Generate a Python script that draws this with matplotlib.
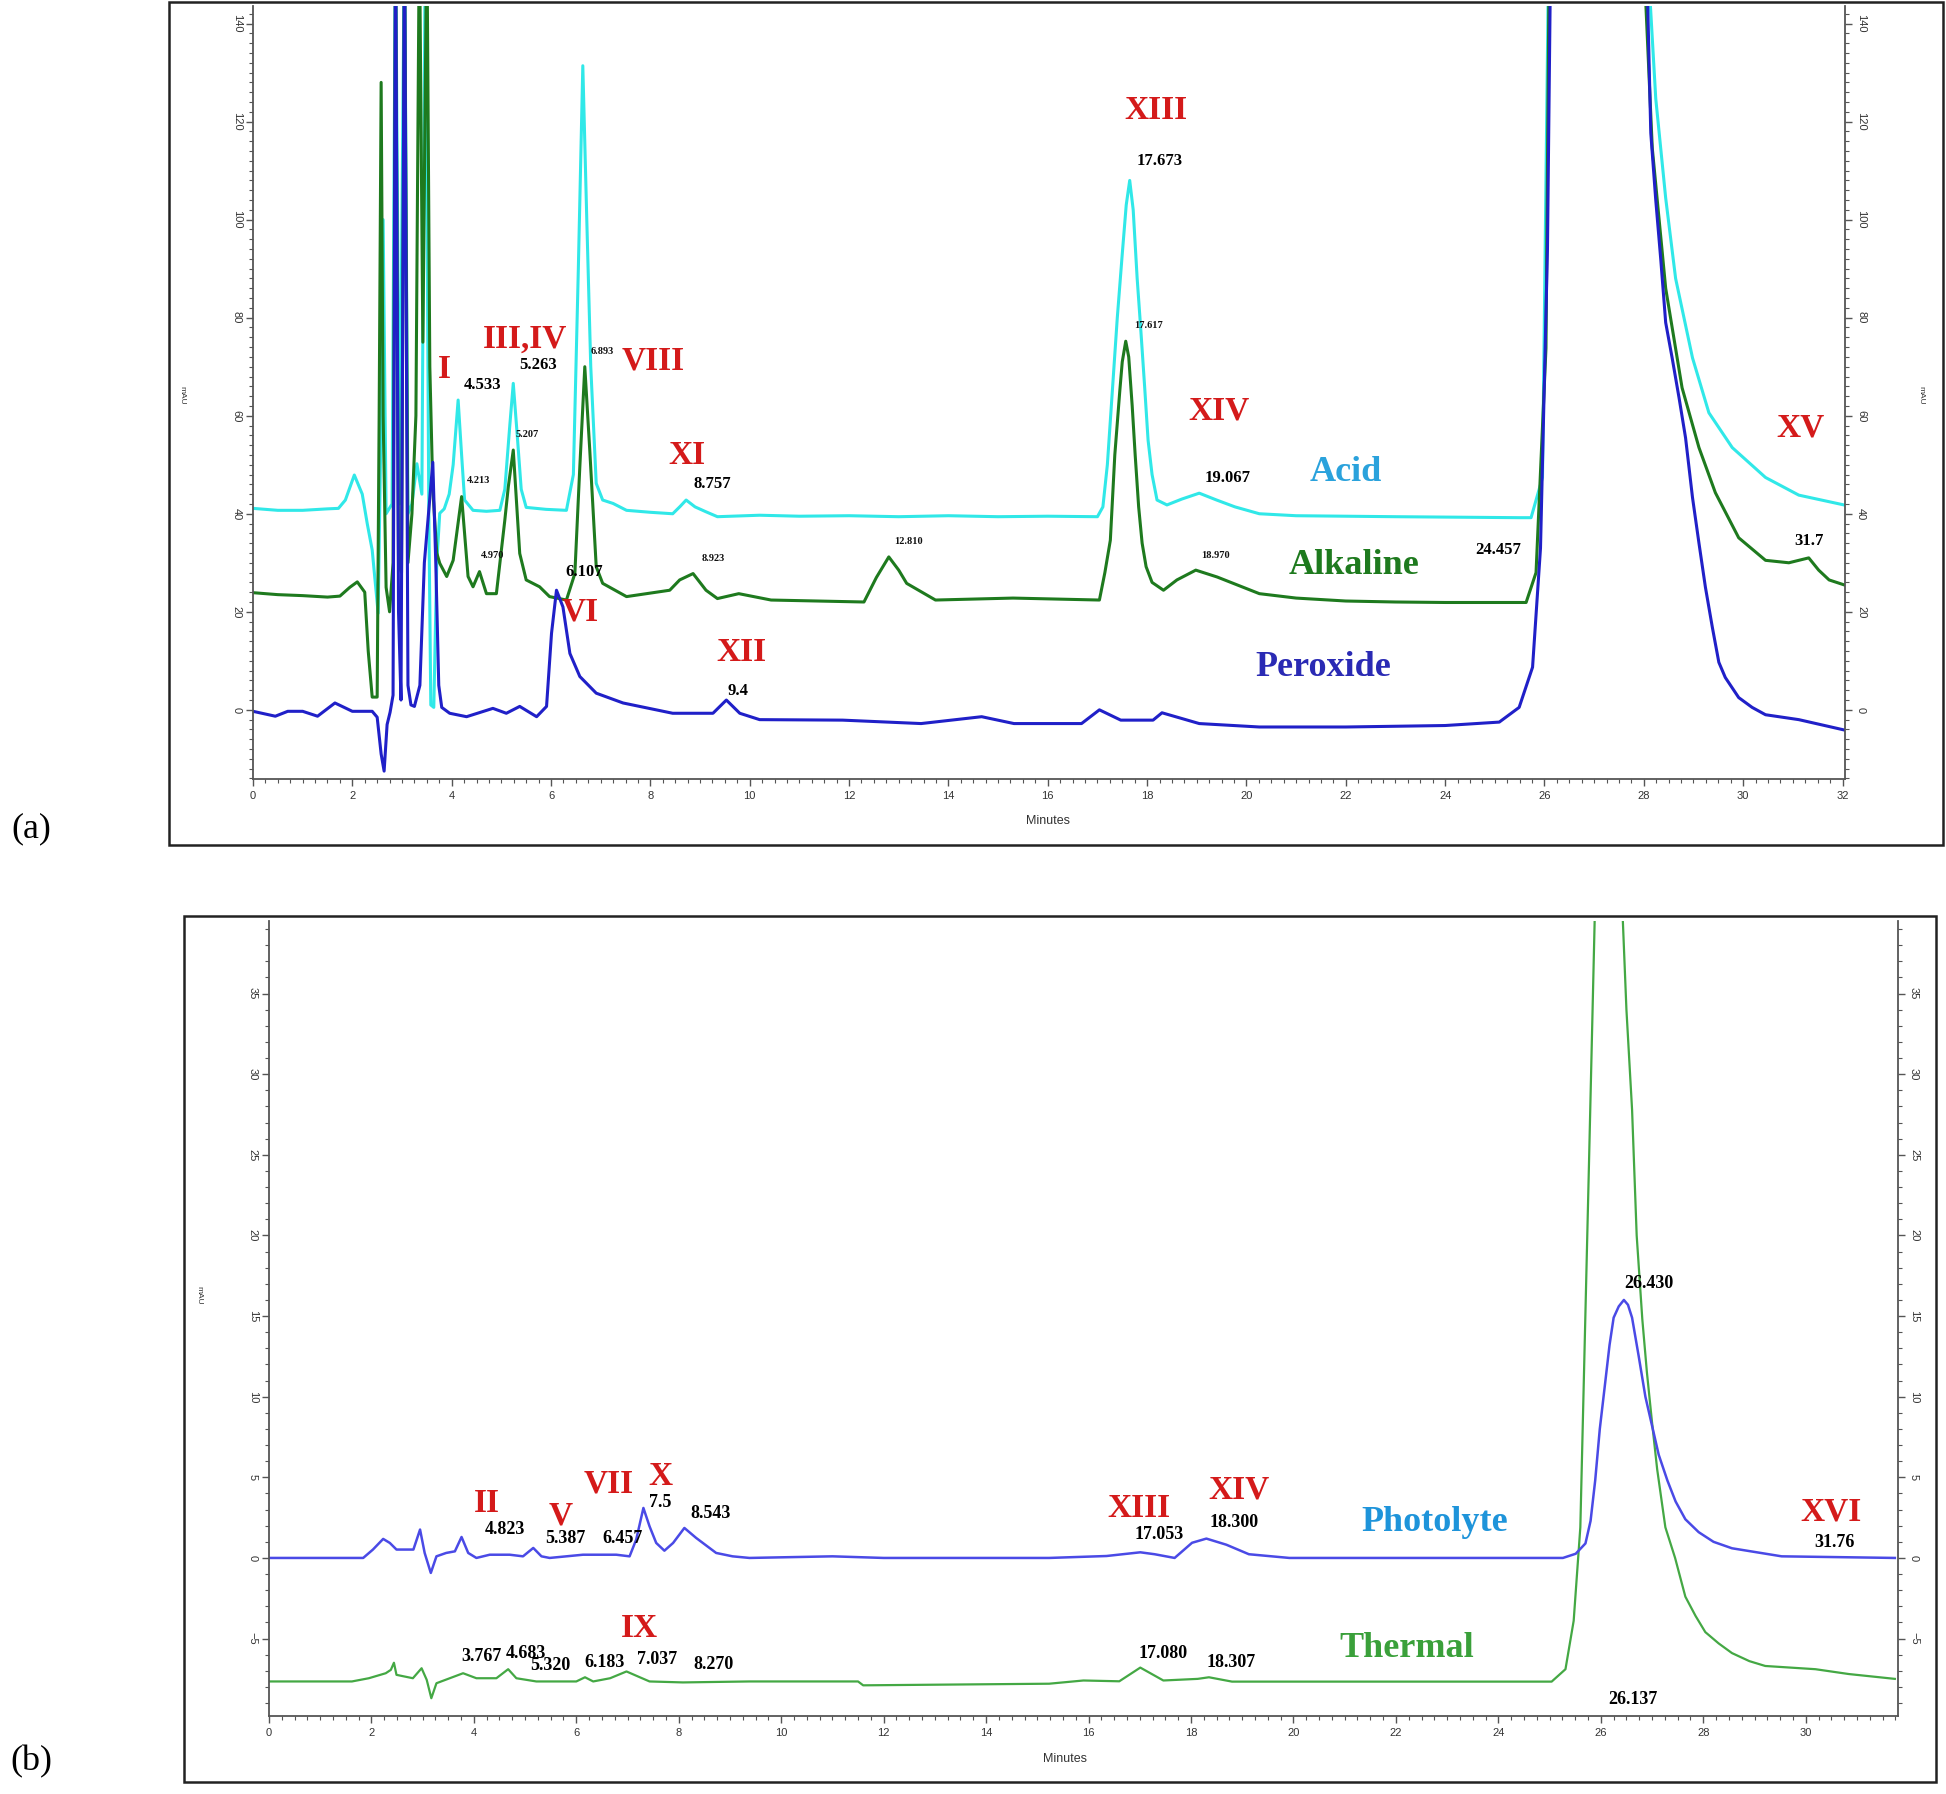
import matplotlib
matplotlib.use("Agg")
import matplotlib.pyplot as plt
from matplotlib.patches import Rectangle
from matplotlib.ticker import MultipleLocator

# ---------------- panel (a) traces: time (min), signal (mAU) ----------------
acid_t = [0, 0.5, 1.0, 1.5, 1.72, 1.86, 2.04, 2.2, 2.3, 2.4, 2.52, 2.58, 2.62, 2.68, 2.8,
          2.87, 2.95, 3.05, 3.12, 3.2, 3.3, 3.4, 3.47, 3.54, 3.58, 3.64, 3.7, 3.76, 3.85,
          3.95, 4.03, 4.13, 4.2, 4.26, 4.43, 4.7, 4.97, 5.07, 5.17, 5.24, 5.32, 5.4, 5.5,
          5.9, 6.31, 6.45, 6.55, 6.64, 6.72, 6.8, 6.91, 7.04, 7.25, 7.52, 8.0, 8.45, 8.6,
          8.72, 8.9, 9.12, 9.35, 10.2, 11.0, 12.0, 13.0, 14.0, 15.0, 16.0, 17.0, 17.11,
          17.2, 17.3, 17.4, 17.5, 17.58, 17.65, 17.72, 17.8, 17.87, 17.95, 18.02, 18.1,
          18.2, 18.4, 18.7, 19.05, 19.4, 19.77, 20.26, 21.0, 23.0, 25.5, 25.73, 25.96,
          26.09, 28.04, 28.24, 28.44, 28.64, 28.98, 29.31, 29.78, 30.45, 31.12, 32.03]
acid_v = [41.1, 40.7, 40.7, 41.0, 41.1, 42.8, 47.9, 44.0, 38.0, 32.6, 19.7, 60, 100, 40, 42,
          160, 42, 160, 40, 42, 50.2, 44, 160, 40, 1, 0.5, 30, 40.1, 41,
          44, 50, 63.2, 52, 42.8, 40.7, 40.5, 40.7, 45, 58, 66.6, 56, 45, 41.3,
          40.9, 40.7, 48, 90, 131.4, 100, 70, 46.2, 42.8, 42.1, 40.7, 40.3, 40.0, 41.5,
          42.8, 41.4, 40.4, 39.4, 39.7, 39.5, 39.6, 39.4, 39.6, 39.4, 39.5, 39.4, 41.4,
          50, 65, 80, 93, 103, 108, 102, 88, 78, 66, 55, 48,
          42.8, 41.8, 43, 44.2, 42.8, 41.4, 40, 39.6, 39.4, 39.2, 39.2, 47.4,
          160, 160, 124.7, 104.4, 88, 71.8, 60.6, 53.5, 47.4, 43.8, 41.8]

alk_t = [0, 0.5, 1.0, 1.5, 1.75, 1.95, 2.1, 2.25, 2.32, 2.4, 2.5, 2.54, 2.58, 2.62, 2.68,
         2.75, 2.82, 2.87, 2.93, 2.99, 3.05, 3.12, 3.2, 3.28, 3.35, 3.42, 3.5, 3.56, 3.62,
         3.7, 3.76, 3.9, 4.03, 4.2, 4.33, 4.43, 4.56, 4.7, 4.9, 5.07, 5.14, 5.24, 5.37,
         5.5, 5.77, 5.97, 6.31, 6.48, 6.58, 6.68, 6.78, 6.91, 7.04, 7.52, 8.39, 8.59, 8.86,
         9.12, 9.35, 9.78, 10.43, 12.3, 12.55, 12.8, 13.0, 13.16, 13.74, 15.3, 17.04,
         17.15, 17.26, 17.35, 17.45, 17.5, 17.57, 17.63, 17.7, 17.76, 17.83, 17.9, 17.98,
         18.1, 18.33, 18.6, 18.98, 19.41, 20.26, 21.0, 22.0, 23.0, 24.0,
         25.63, 25.83, 26.03, 26.1, 27.97, 28.17, 28.44, 28.77, 29.11, 29.44, 29.91, 30.45,
         30.92, 31.32, 31.52, 31.73, 32.03]
alk_v = [23.9, 23.5, 23.3, 23.0, 23.2, 25.0, 26.1, 24.0, 12, 2.6, 2.6, 60, 128, 60, 25,
         20, 30, 160, 30, 28, 160, 30, 40, 60, 160, 75, 160, 70, 45,
         32, 29.9, 27.2, 30.5, 43.5, 27.2, 25.1, 28.2, 23.7, 23.7, 38.7, 45.5, 53, 31.9,
         26.5, 25.1, 23.1, 22.4, 27.8, 49.6, 70, 53, 29.2, 25.8, 23.1, 24.4, 26.5, 27.8,
         24.4, 22.7, 23.7, 22.4, 22.0, 27, 31.2, 28.5, 25.8, 22.4, 22.8, 22.4,
         28, 34.6, 52, 65, 71, 75.2, 72, 62, 52, 41.4, 34, 29.2,
         26, 24.4, 26.5, 28.5, 27.1, 23.7, 22.8, 22.2, 22.0, 21.9,
         21.9, 28, 73.8, 160, 160, 114.6, 86, 65.7, 53.5, 44.3, 35.1, 30.5,
         30, 31, 28.5, 26.5, 25.5]

per_t = [0, 0.45, 0.7, 1.0, 1.3, 1.65, 2.0, 2.4, 2.5, 2.58, 2.64, 2.7, 2.76, 2.82, 2.87,
         2.93, 2.98, 3.05, 3.12, 3.18, 3.25, 3.36, 3.45, 3.55, 3.62, 3.68, 3.74, 3.8,
         3.96, 4.3, 4.83, 5.1, 5.37, 5.71, 5.91, 6.01, 6.11, 6.24, 6.38, 6.58, 6.91, 7.45,
         8.45, 9.26, 9.53, 9.8, 10.2, 11.87, 13.45, 14.67, 15.32, 16.68, 17.04, 17.47,
         18.12, 18.3, 19.05, 20.26, 22.0, 24.0, 25.09, 25.49, 25.76, 25.92, 26.06, 26.13,
         28.04, 28.14, 28.24, 28.34, 28.44, 28.57, 28.71, 28.84, 28.98, 29.11, 29.24,
         29.38, 29.51, 29.64, 29.91, 30.18, 30.45, 31.12, 32.03]
per_v = [-0.3, -1.3, -0.3, -0.3, -1.3, 1.4, -0.3, -0.3, -1.5, -9, -12.5, -3, -0.5, 3, 160,
         20, 2, 160, 5, 1, 0.7, 5, 30, 42, 50.5, 30, 5, 0.5,
         -0.7, -1.4, 0.3, -0.7, 0.7, -1.4, 0.7, 15.6, 24.4, 21, 11.5, 6.8, 3.4, 1.4,
         -0.7, -0.7, 2.0, -0.7, -2.0, -2.1, -2.8, -1.4, -2.8, -2.8, 0.0, -2.1,
         -2.1, -0.6, -2.8, -3.5, -3.5, -3.2, -2.5, 0.5, 8.7, 33, 94, 160,
         160, 117.7, 104, 92, 79, 71.8, 63.6, 55.5, 43.3, 34, 25,
         16.8, 9.7, 6.6, 2.5, 0.5, -1, -2, -4.1]

# ---------------- panel (b) traces ----------------
pho_t = [0, 1.84, 2.03, 2.23, 2.36, 2.49, 2.82, 2.95, 3.04, 3.16, 3.27, 3.46, 3.63, 3.76,
         3.89, 4.05, 4.31, 4.7, 4.96, 5.16, 5.32, 5.48, 6.13, 6.78, 7.04, 7.17, 7.31, 7.43,
         7.56, 7.72, 7.89, 8.11, 8.34, 8.73, 9.05, 9.38, 11.0, 12.0, 15.23, 16.35, 17.01,
         17.29, 17.68, 18.02, 18.3, 18.69, 19.13, 19.92, 25.26, 25.51, 25.7, 25.8, 25.89,
         25.98, 26.09, 26.17, 26.25, 26.35, 26.45, 26.53, 26.61, 26.74, 26.87, 27.0, 27.13,
         27.3, 27.46, 27.65, 27.91, 28.2, 28.56, 29.53, 31.74]
pho_v = [0, 0, 0.52, 1.18, 0.93, 0.52, 0.52, 1.76, 0.31, -0.93, 0.1, 0.31, 0.41, 1.3,
         0.31, 0, 0.2, 0.2, 0.1, 0.62, 0.1, 0, 0.2, 0.2, 0.1, 1.14, 3.1, 1.96,
         0.93, 0.45, 0.93, 1.86, 1.24, 0.31, 0.1, 0, 0.1, 0, 0, 0.12, 0.35,
         0.23, 0, 0.94, 1.2, 0.82, 0.23, 0, 0, 0.26, 0.9, 2.3, 4.8,
         8, 11, 13.2, 14.9, 15.6, 16, 15.7, 14.9, 12.5, 10, 8.2, 6.4,
         4.8, 3.5, 2.4, 1.6, 1.0, 0.6, 0.1, 0]

the_t = [0, 1.62, 1.95, 2.28, 2.38, 2.44, 2.49, 2.81, 2.98, 3.08, 3.17, 3.27, 3.53, 3.79,
         4.05, 4.44, 4.67, 4.83, 5.22, 6.0, 6.17, 6.33, 6.66, 6.98, 7.24, 7.43, 8.08, 9.38,
         11.5, 11.6, 15.23, 15.9, 16.6, 17.01, 17.46, 18.13, 18.35, 18.8, 25.04, 25.31,
         25.47, 25.6, 25.77, 25.92, 26.36, 26.5, 26.61, 26.7, 26.81, 26.9, 27.0, 27.1,
         27.26, 27.45, 27.65, 27.85, 28.04, 28.3, 28.56, 28.9, 29.21, 29.7, 30.19, 30.84,
         31.74]
the_v = [-7.66, -7.66, -7.46, -7.15, -6.94, -6.5, -7.25, -7.46, -6.84, -7.56, -8.7, -7.77,
         -7.46, -7.15, -7.46, -7.46, -6.9, -7.46, -7.66, -7.66, -7.4, -7.66, -7.46, -7.04,
         -7.4, -7.66, -7.72, -7.66, -7.66, -7.9, -7.8, -7.6, -7.65, -6.8, -7.6, -7.5, -7.4,
         -7.67, -7.67, -6.9, -3.9, 1.9, 24.6, 45, 45, 34, 27.8, 20, 14.8, 11.5, 8.4, 5.5,
         1.9, 0, -2.4, -3.6, -4.6, -5.3, -5.9, -6.4, -6.7, -6.8, -6.9, -7.2,
         -7.5]

# ---------------- annotations: (text, time, signal) ----------------
a_roman = [("I", 3.85, 69.4), ("III,IV", 5.47, 75.5), ("VIII", 8.06, 71.2),
           ("XI", 8.74, 51.9), ("XIII", 18.17, 122.3), ("XIV", 19.45, 61.0),
           ("XV", 31.16, 57.5), ("VI", 6.59, 20.0), ("XII", 9.84, 11.7)]
a_rt_big = [("4.533", 4.62, 66.3), ("5.263", 5.74, 70.4), ("6.107", 6.67, 28.1),
            ("8.757", 9.24, 46.1), ("17.673", 18.25, 111.9), ("19.067", 19.62, 47.3),
            ("24.457", 25.06, 32.7), ("31.7", 31.33, 34.4), ("9.4", 9.76, 3.8)]
a_rt_small = [("6.893", 7.04, 73.2), ("4.213", 4.54, 46.8), ("5.207", 5.52, 56.2),
              ("4.970", 4.82, 31.4), ("8.923", 9.26, 30.9), ("12.810", 13.2, 34.4),
              ("17.617", 18.02, 78.5), ("18.970", 19.37, 31.4)]
a_names = [("Acid", 21.99, 48.4), ("Alkaline", 22.17, 29.4), ("Peroxide", 21.54, 8.6)]

b_roman = [("II", 4.26, 3.36), ("V", 5.69, 2.6), ("VII", 6.64, 4.6), ("X", 7.65, 5.06),
           ("IX", 7.24, -4.4), ("XIII", 16.99, 3.05), ("XIV", 18.93, 4.2), ("XVI", 30.5, 2.83)]
b_rt = [("4.823", 4.6, 1.75), ("5.387", 5.79, 1.2), ("6.457", 6.9, 1.2), ("7.5", 7.63, 3.44),
        ("8.543", 8.62, 2.75), ("3.767", 4.14, -6.1), ("4.683", 5.01, -5.9),
        ("5.320", 5.5, -6.7), ("6.183", 6.56, -6.5), ("7.037", 7.58, -6.3),
        ("8.270", 8.67, -6.6), ("17.053", 17.38, 1.44), ("18.300", 18.85, 2.2),
        ("17.080", 17.45, -5.9), ("18.307", 18.78, -6.5), ("26.430", 26.93, 17.0),
        ("26.137", 26.62, -8.8), ("31.76", 30.57, 0.98)]
b_names = [("Photolyte", 22.75, 2.2), ("Thermal", 22.22, -5.6)]

RED = "#d41a1a"
SERIF = "Liberation Serif"
SANS = "Liberation Sans"

fig = plt.figure(figsize=(19.46, 17.94), dpi=100)

# outer frames
for x0, y0, w, h in [(0.0868, 0.529, 0.9116, 0.4699), (0.0946, 0.0067, 0.9003, 0.4827)]:
    fig.patches.append(Rectangle((x0, y0), w, h, transform=fig.transFigure,
                                 fill=False, lw=1.8, ec="#222222"))

ax1 = fig.add_axes([0.1300, 0.5658, 0.8181, 0.4309])
ax2 = fig.add_axes([0.1382, 0.0435, 0.8371, 0.4431])

ax1.plot(acid_t, acid_v, color="#30e8e8", lw=2.2)
ax1.plot(alk_t, alk_v, color="#1e7a1e", lw=2.2)
ax1.plot(per_t, per_v, color="#2020c8", lw=2.2)
ax1.set_xlim(0, 32.05)
ax1.set_ylim(-14.1, 143.6)

ax2.plot(the_t, the_v, color="#44a844", lw=1.6)
ax2.plot(pho_t, pho_v, color="#4a4ae6", lw=1.8)
ax2.set_xlim(0, 31.8)
ax2.set_ylim(-9.8, 39.5)

for ax, ymaj, ymin in [(ax1, 20, 2), (ax2, 5, 1)]:
    ax.spines["top"].set_visible(False)
    for s in ["left", "right", "bottom"]:
        ax.spines[s].set_color("#555555")
        ax.spines[s].set_linewidth(1.3)
    ax.xaxis.set_major_locator(MultipleLocator(2))
    ax.xaxis.set_minor_locator(MultipleLocator(0.25))
    ax.yaxis.set_major_locator(MultipleLocator(ymaj))
    ax.yaxis.set_minor_locator(MultipleLocator(ymin))
    ax.tick_params(which="both", direction="out", colors="#555555", labelcolor="#333333",
                   labelsize=8, right=True, labelright=True)
    ax.tick_params(which="major", length=5, width=1)
    ax.tick_params(which="minor", length=3, width=0.8)
    ax.tick_params(axis="y", which="major", labelrotation=-90, pad=3)
ax1.set_yticks(range(0, 141, 20))
ax2.set_yticks(range(-5, 36, 5))
ax2.set_xticks(range(0, 31, 2))
for ax in (ax1, ax2):
    for lab in ax.get_yticklabels():
        lab.set_va("center")
        lab.set_family(SANS)
    for lab in ax.get_xticklabels():
        lab.set_family(SANS)

def put(ax, items, color, size, weight="bold"):
    for txt, t, v in items:
        ax.text(t, v, txt, color=color, fontsize=size, fontweight=weight,
                family=SERIF, ha="center", va="center")

put(ax1, a_roman, RED, 24)
put(ax1, a_rt_big, "black", 12)
put(ax1, a_rt_small, "#111111", 7.5)
for (txt, t, v), c in zip(a_names, ["#2aa2dc", "#1e7a1e", "#2a2ab4"]):
    ax1.text(t, v, txt, color=c, fontsize=26, fontweight="bold", family=SERIF,
             ha="center", va="center")

put(ax2, b_roman, RED, 24)
put(ax2, b_rt, "black", 13)
for (txt, t, v), c in zip(b_names, ["#1e94da", "#3aa03a"]):
    ax2.text(t, v, txt, color=c, fontsize=26, fontweight="bold", family=SERIF,
             ha="center", va="center")

# axis captions
fig.text(0.5385, 0.5424, "Minutes", fontsize=9, color="#333333", family=SANS,
         ha="center", va="center")
fig.text(0.5473, 0.0195, "Minutes", fontsize=9, color="#333333", family=SANS,
         ha="center", va="center")
fig.text(0.0935, 0.7798, "mAU", fontsize=6, color="#333333", family=SANS,
         rotation=-90, ha="center", va="center")
fig.text(0.9872, 0.7798, "mAU", fontsize=6, color="#333333", family=SANS,
         rotation=-90, ha="center", va="center")
fig.text(0.1023, 0.2781, "mAU", fontsize=6, color="#333333", family=SANS,
         rotation=-90, ha="center", va="center")

fig.text(0.016, 0.5379, "(a)", fontsize=26, family=SERIF, ha="center", va="center")
fig.text(0.016, 0.0178, "(b)", fontsize=26, family=SERIF, ha="center", va="center")

fig.savefig("out.png", dpi=100)
